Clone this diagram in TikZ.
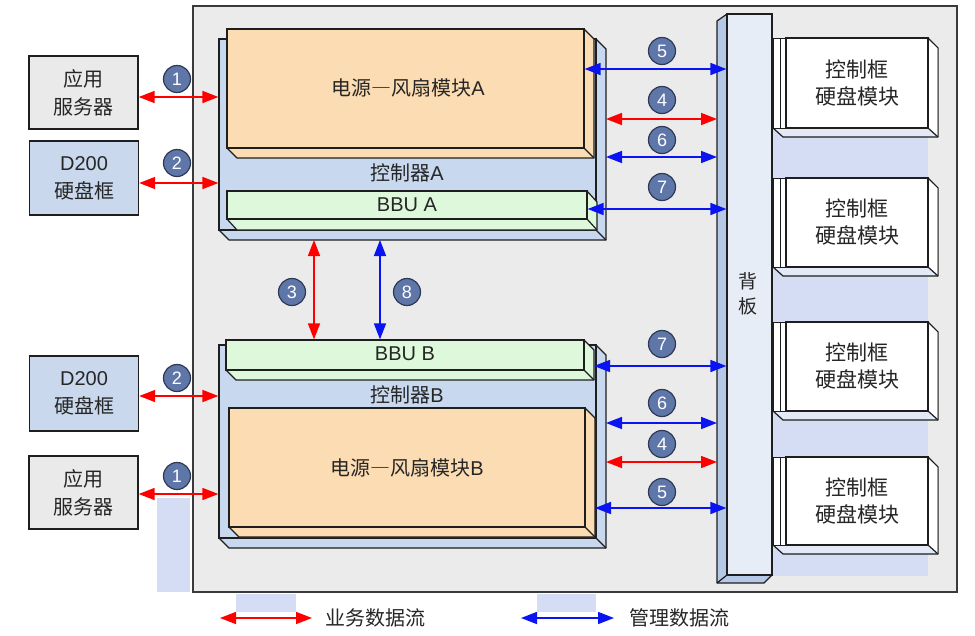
\documentclass[tikz,border=0pt]{standalone}
\usepackage{fontspec}
\setmainfont{Liberation Sans}
\newfontfamily\cjk{Noto Sans CJK SC}
\newfontfamily\cjkfw[RawFeature=+fwid]{Noto Sans CJK SC}
\usetikzlibrary{arrows.meta,fit}
\definecolor{bggrey}{HTML}{EBEBEB}
\definecolor{edgec}{HTML}{1E1E1E}
\definecolor{framec}{HTML}{3A3A3A}
\definecolor{peach}{HTML}{FCDCB2}
\definecolor{ctrlblue}{HTML}{C8D8EE}
\definecolor{mint}{HTML}{DDF8DA}
\definecolor{lav}{HTML}{D5DDF5}
\definecolor{bpfront}{HTML}{E6EDF7}
\definecolor{bpside}{HTML}{B5C9E6}
\definecolor{srvgrey}{HTML}{EAEAEA}
\definecolor{dblue}{HTML}{C9D8EC}
\definecolor{circ}{HTML}{5F76A8}
\definecolor{circedge}{HTML}{2E3A55}
\definecolor{bizred}{HTML}{FF0000}
\definecolor{mgmtblue}{HTML}{0A14F0}
\definecolor{modside}{HTML}{E4E9F8}
\definecolor{txt}{HTML}{262626}
\newcommand{\fs}[2]{\fontsize{#1}{#2}\selectfont}
% 3D box: name, x1, y1, x2, y2, dx, dy, fill
\newcommand{\boxthree}[8]{%
  \filldraw[fill=#8, draw=edgec, line width=1.2pt, line join=round]
    (#4,#3) -- (#4+#6,#3+#7) -- (#4+#6,#5+#7) -- (#2+#6,#5+#7) -- (#2,#5) -- cycle;
  \draw[edgec, line width=1.2pt] (#4,#5) -- (#4+#6,#5+#7);
  \node[fit={(#2,#3)(#4,#5)}, inner sep=0pt, draw=edgec, fill=#8, line width=1.2pt] (#1) {};
  \coordinate (#1-x) at (#4+#6,#3);
  \coordinate (#1-b) at (#2,#5+#7);
}
% hard disk module: name, ytop, ybottom
\newcommand{\hdmod}[3]{%
  \filldraw[fill=modside, draw=edgec, line width=1.2pt, line join=round]
    (928,#2) -- (938,#2+10) -- (938,#3+9) -- (783,#3+9) -- (773,#3) -- cycle;
  \fill[white] (928.6,#2+2) -- (937.4,#2+10.5) -- (937.4,#3+8) -- (928.6,#3) -- cycle;
  \draw[edgec, line width=1.2pt] (928,#3) -- (938,#3+9);
  \filldraw[fill=white, draw=edgec, line width=1pt] (773,#2) rectangle (786,#3);
  \draw[edgec, line width=0.8pt] (780,#2) -- (780,#3);
  \node[fit={(786,#2)(928,#3)}, inner sep=0pt, draw=edgec, fill=white, line width=1.2pt] (#1) {};
  \node[lbl, font=\fs{21}{27}] (#1-t) at (#1.center) {\cjk 控制框\\\cjk 硬盘模块};
}
\tikzset{
  biz/.style={draw=bizred, line width=1.6pt, {Triangle[length=16pt,width=12pt]}-{Triangle[length=16pt,width=12pt]}},
  mgmt/.style={draw=mgmtblue, line width=1.6pt, {Triangle[length=16pt,width=12pt]}-{Triangle[length=16pt,width=12pt]}},
  numc/.style={circle, fill=circ, draw=circedge, line width=1.2pt, minimum size=27pt, inner sep=0pt, text=white, font=\fs{18}{18}},
  lbl/.style={inner sep=0pt, align=center, text=txt, font=\fs{20}{28}},
  sidebox/.style={draw=edgec, line width=1.4pt, minimum width=109pt, minimum height=73pt, align=center, inner sep=0pt, text=txt, font=\fs{20}{28}},
  artifact/.style={fill=lav},
}
\begin{document}
\begin{tikzpicture}[x=1pt,y=-1pt]
\useasboundingbox (0,0) rectangle (975,635);
\fill[white] (0,0) rectangle (975,635);
% chassis
\node[fit={(193,6)(957,592)}, inner sep=0pt, draw=framec, fill=bggrey, line width=1.5pt] (chassis) {};
% lavender artifacts
\fill[artifact] (773,128) rectangle (928,576);
\fill[artifact] (157,498) rectangle (190,592);
\fill[artifact] (236,594) rectangle (296,612);
\fill[artifact] (537,594) rectangle (596,612);
% controller A
\boxthree{ctrlA}{219}{39}{596}{230}{10}{10}{ctrlblue}
\boxthree{orA}{227}{29}{584}{148}{10}{10}{peach}
\boxthree{bbuA}{227}{191}{587}{219}{10}{11}{mint}
\node[lbl] (orAt) at (408,88) {{\cjk 电源}{\cjkfw —}{\cjk 风扇模块}A};
\node[lbl] (ctrlAt) at (407,173) {{\cjk 控制器}A};
\node[lbl] (bbuAt) at (407,205) {BBU A};
% controller B
\boxthree{ctrlB}{219}{345}{596}{538}{10}{10}{ctrlblue}
\boxthree{bbuB}{226}{340}{584}{370}{10}{10}{mint}
\boxthree{orB}{229}{408}{585}{527}{10}{10}{peach}
\node[lbl] (bbuBt) at (405,354) {BBU B};
\node[lbl] (ctrlBt) at (407,395) {{\cjk 控制器}B};
\node[lbl] (orBt) at (407,468) {{\cjk 电源}{\cjkfw —}{\cjk 风扇模块}B};
% backplane
\filldraw[fill=bpside, draw=edgec, line width=1.2pt, line join=round]
  (727,14) -- (717,21) -- (717,583) -- (764,583) -- (772,575) -- cycle;
\draw[edgec, line width=1.2pt] (727,575) -- (717,583);
\node[fit={(727,14)(772,575)}, inner sep=0pt, draw=edgec, fill=bpfront, line width=1.2pt] (bp) {};
\coordinate (bp-x) at (717,14);
\node[lbl, font=\fs{19}{25}] (bpt) at (748,294) {\cjk 背\\\cjk 板};
% disk modules
\hdmod{hd1}{38}{128}
\hdmod{hd2}{178}{267}
\hdmod{hd3}{322}{411}
\hdmod{hd4}{457}{545}
% outside boxes
\node[sidebox, fill=srvgrey] (srvA) at (83.5,92.5) {\cjk 应用\\\cjk 服务器};
\node[sidebox, fill=dblue, minimum height=74pt] (d2A) at (84,178) {D200\\\cjk 硬盘框};
\node[sidebox, fill=dblue, minimum height=75pt] (d2B) at (84,393.5) {D200\\\cjk 硬盘框};
\node[sidebox, fill=srvgrey] (srvB) at (83.5,492.5) {\cjk 应用\\\cjk 服务器};
% left arrows
\draw[biz] (srvA.east |- 0,97) -- (ctrlA.west |- 0,97);
\draw[biz] (d2A.east |- 0,183) -- (ctrlA.west |- 0,183);
\draw[biz] (d2B.east |- 0,396) -- (ctrlB.west |- 0,396);
\draw[biz] (srvB.east |- 0,494) -- (ctrlB.west |- 0,494);
% middle arrows
\draw[biz] (314,0 |- ctrlA-b) -- (314,0 |- bbuB.north);
\draw[mgmt] (380,0 |- ctrlA-b) -- (380,0 |- bbuB.north);
% right arrows A
\draw[mgmt] (orA.east |- 0,69) -- (bp.west |- 0,69);
\draw[biz] (ctrlA-x |- 0,119) -- (bp-x |- 0,119);
\draw[mgmt] (ctrlA-x |- 0,157) -- (bp-x |- 0,157);
\draw[mgmt] (bbuA.east |- 0,209) -- (bp.west |- 0,209);
% right arrows B
\draw[mgmt] (bbuB-x |- 0,366) -- (bp.west |- 0,366);
\draw[mgmt] (ctrlB-x |- 0,423) -- (bp-x |- 0,423);
\draw[biz] (ctrlB-x |- 0,462) -- (bp-x |- 0,462);
\draw[mgmt] (orB-x |- 0,508) -- (bp.west |- 0,508);
% number circles
\node[numc] (n1a) at (177,79) {1};
\node[numc] (n2a) at (177,163) {2};
\node[numc] (n2b) at (177,378) {2};
\node[numc] (n1b) at (177,476) {1};
\node[numc] (n3) at (292,292) {3};
\node[numc] (n8) at (407,292) {8};
\node[numc] (n5a) at (662,51) {5};
\node[numc] (n4a) at (662,100) {4};
\node[numc] (n6a) at (662,140) {6};
\node[numc] (n7a) at (662,187) {7};
\node[numc] (n7b) at (662,344) {7};
\node[numc] (n6b) at (662,403) {6};
\node[numc] (n4b) at (662,444) {4};
\node[numc] (n5b) at (662,492) {5};
% legend
\coordinate (lr1) at (220,618);
\coordinate (lr2) at (312,618);
\coordinate (lb1) at (521,618);
\coordinate (lb2) at (614,618);
\draw[biz] (lr1) -- (lr2);
\draw[mgmt] (lb1) -- (lb2);
\node[lbl, anchor=west] (lgr) at (325,618) {\cjk 业务数据流};
\node[lbl, anchor=west] (lgb) at (629,618) {\cjk 管理数据流};
\end{tikzpicture}
\end{document}
